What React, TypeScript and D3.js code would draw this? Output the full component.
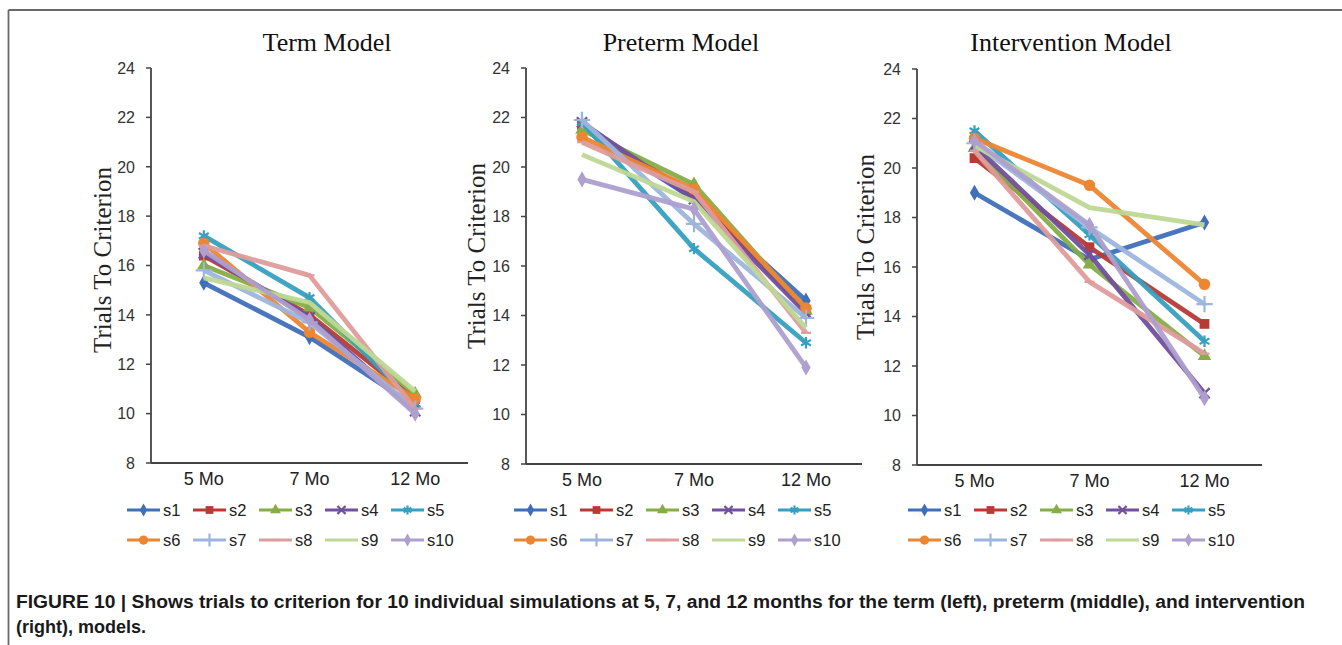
import React from "react";
import * as d3 from "d3";

// data
const months = ["5 Mo", "7 Mo", "12 Mo"];
const seriesNames = ["s1", "s2", "s3", "s4", "s5", "s6", "s7", "s8", "s9", "s10"];
const yTicks = [8, 10, 12, 14, 16, 18, 20, 22, 24];
const panelTitles = ["Term Model", "Preterm Model", "Intervention Model"];

// one row per simulation: [5 Mo, 7 Mo, 12 Mo]
const termData = [
  [15.3, 13.1, 10.3],
  [16.4, 14.0, 10.6],
  [16.0, 14.3, 10.8],
  [16.5, 13.9, 10.1],
  [17.2, 14.7, 10.4],
  [16.9, 13.3, 10.6],
  [15.8, 13.7, 10.2],
  [16.8, 15.6, 10.2],
  [15.5, 14.5, 10.9],
  [16.6, 13.8, 10.0],
];
const pretermData = [
  [21.6, 18.7, 14.6],
  [21.7, 18.9, 14.2],
  [21.5, 19.3, 14.2],
  [21.8, 18.7, 14.1],
  [21.8, 16.7, 12.9],
  [21.2, 19.1, 14.3],
  [21.9, 17.7, 13.9],
  [21.0, 19.0, 13.3],
  [20.5, 18.6, 13.5],
  [19.5, 18.3, 11.9],
];
const interventionData = [
  [19.0, 16.3, 17.8],
  [20.4, 16.8, 13.7],
  [20.8, 16.1, 12.4],
  [20.9, 16.5, 10.9],
  [21.5, 17.3, 13.0],
  [21.2, 19.3, 15.3],
  [21.0, 17.6, 14.5],
  [20.7, 15.4, 12.5],
  [20.9, 18.4, 17.7],
  [21.1, 17.7, 10.7],
];
const captionLines = [
  "FIGURE 10 | Shows trials to criterion for 10 individual simulations at 5, 7, and 12 months for the term (left), preterm (middle), and intervention",
  "(right), models.",
];

const colors = [
  "#3f6fb8", "#b83a36", "#86ad48", "#71509c", "#36a0c0",
  "#ec8632", "#9db5de", "#de9c9b", "#bfd893", "#ae9fce",
];
const markerKinds = ["diamond", "square", "triangle", "x", "asterisk", "circle", "plus", "dash", "none", "diamond"];

const width = 1342;
const height = 645;
const sans = "'Liberation Sans', Arial, sans-serif";
const serif = "'Liberation Serif', 'Times New Roman', serif";

const panels = [
  { title: panelTitles[0], data: termData, x0: 151, x1: 468, yTop: 68, yBot: 463, titleX: 327, labX: 111, labY: 260, legendX: 127 },
  { title: panelTitles[1], data: pretermData, x0: 526, x1: 862, yTop: 68, yBot: 464, titleX: 681, labX: 485, labY: 256, legendX: 514 },
  { title: panelTitles[2], data: interventionData, x0: 917, x1: 1262, yTop: 69, yBot: 465, titleX: 1071, labX: 874, labY: 247, legendX: 908 },
];

function Marker({ kind, color, x, y, scale = 1 }) {
  if (kind === "none") return null;
  const s = scale;
  let d;
  let stroke = false;
  if (kind === "diamond") d = d3.symbol().type(d3.symbolDiamond).size(75 * s * s)();
  else if (kind === "square") d = d3.symbol().type(d3.symbolSquare).size(95 * s * s)();
  else if (kind === "triangle") d = d3.symbol().type(d3.symbolTriangle).size(80 * s * s)();
  else if (kind === "circle") d = d3.symbol().type(d3.symbolCircle).size(105 * s * s)();
  else if (kind === "x") { d = d3.symbol().type(d3.symbolX).size(70 * s * s)(); stroke = true; }
  else if (kind === "asterisk") { d = d3.symbol().type(d3.symbolAsterisk).size(90 * s * s)(); stroke = true; }
  else if (kind === "plus") { d = d3.symbol().type(d3.symbolPlus).size(90 * s * s)(); stroke = true; }
  else if (kind === "dash") { d = `M${-5 * s},0H${5 * s}`; stroke = true; }
  return (
    <path
      d={d}
      transform={`translate(${x},${y})`}
      fill={stroke ? "none" : color}
      stroke={color}
      strokeWidth={stroke ? 2.2 : 0}
    />
  );
}

function Panel({ p }) {
  const x = d3.scalePoint().domain(months).range([p.x0, p.x1]).padding(0.5);
  const y = d3.scaleLinear().domain([8, 24]).range([p.yBot, p.yTop]);
  const line = d3.line().x((d, i) => x(months[i])).y((d) => y(d));

  return (
    <g>
      <text x={p.titleX} y={51} textAnchor="middle" fontFamily={serif} fontSize={26} fill="#111">
        {p.title}
      </text>
      <text
        transform={`translate(${p.labX},${p.labY}) rotate(-90)`}
        textAnchor="middle"
        fontFamily={serif}
        fontSize={25}
        fill="#222"
      >
        Trials To Criterion
      </text>

      {yTicks.map((t) => (
        <g key={t}>
          <line x1={p.x0 - 5} x2={p.x0} y1={y(t)} y2={y(t)} stroke="#444" strokeWidth={1.5} />
          <text x={p.x0 - 16} y={y(t)} dy="0.36em" textAnchor="end" fontFamily={sans} fontSize={16} fill="#333">
            {t}
          </text>
        </g>
      ))}
      <line x1={p.x0} x2={p.x0} y1={p.yTop} y2={p.yBot} stroke="#444" strokeWidth={1.8} />
      <line x1={p.x0} x2={p.x1} y1={p.yBot} y2={p.yBot} stroke="#444" strokeWidth={1.8} />
      {months.map((m) => (
        <text key={m} x={x(m)} y={p.yBot + 22} textAnchor="middle" fontFamily={sans} fontSize={18} fill="#222">
          {m}
        </text>
      ))}

      {p.data.map((vals, si) => (
        <g key={si}>
          <path d={line(vals)} fill="none" stroke={colors[si]} strokeWidth={4.8} strokeLinejoin="round" opacity={0.95} />
          {vals.map((v, i) => (
            <Marker key={i} kind={markerKinds[si]} color={colors[si]} x={x(months[i])} y={y(v)} />
          ))}
        </g>
      ))}

      {seriesNames.map((name, si) => {
        const lx = p.legendX + (si % 5) * 66;
        const ly = si < 5 ? 510 : 540;
        return (
          <g key={name}>
            <line x1={lx} x2={lx + 33} y1={ly} y2={ly} stroke={colors[si]} strokeWidth={2.8} />
            <Marker kind={markerKinds[si]} color={colors[si]} x={lx + 16.5} y={ly} scale={0.8} />
            <text x={lx + 36} y={ly} dy="0.38em" fontFamily={sans} fontSize={16.5} fill="#222">
              {name}
            </text>
          </g>
        );
      })}
    </g>
  );
}

export default function App() {
  return (
    <div style={{ position: "absolute", left: 0, top: 0 }}>
      <svg width={width} height={height} style={{ display: "block", background: "#fff" }}>
        <line x1={8.5} x2={width} y1={10} y2={10} stroke="#6a6a6a" strokeWidth={1.8} />
        <line x1={8.5} x2={8.5} y1={10} y2={height} stroke="#6a6a6a" strokeWidth={1.8} />
        {panels.map((p) => (
          <Panel key={p.title} p={p} />
        ))}
        {captionLines.map((c, i) => (
          <text
            key={i}
            x={16}
            y={608 + i * 25}
            fontFamily={sans}
            fontWeight="bold"
            fontSize={18}
            fill="#1a1a1a"
            textLength={i === 0 ? 1289 : undefined}
            lengthAdjust={i === 0 ? "spacingAndGlyphs" : undefined}
          >
            {c}
          </text>
        ))}
      </svg>
    </div>
  );
}
